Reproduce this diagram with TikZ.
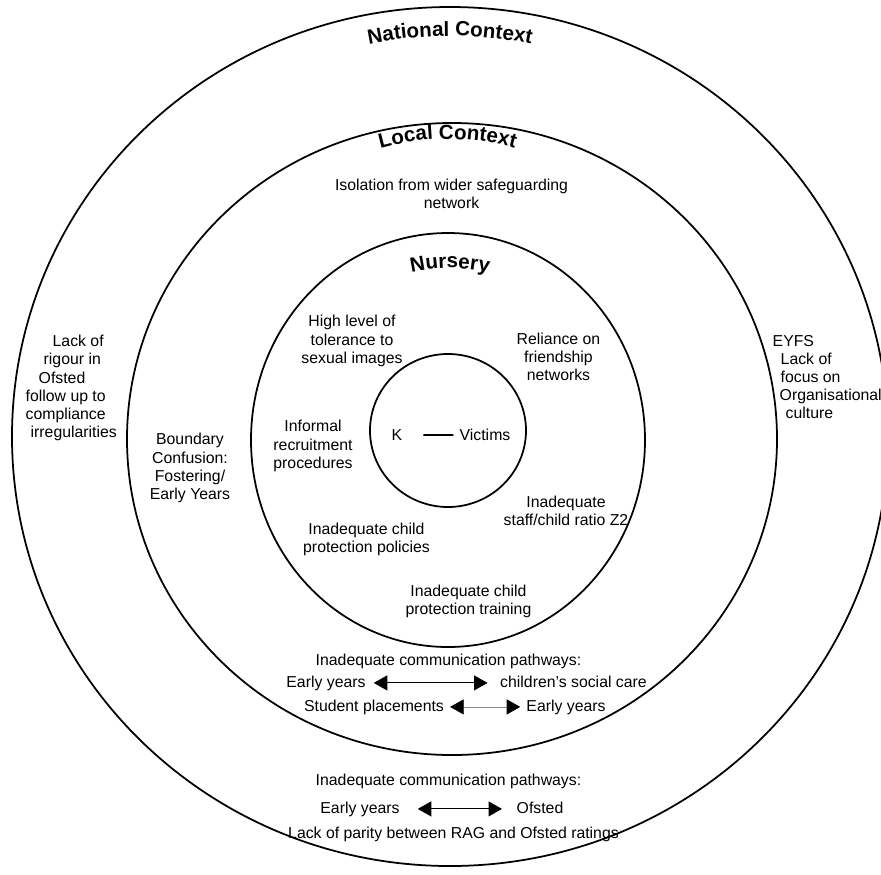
\documentclass[tikz,border=0pt]{standalone}
\usepackage{fontspec}
\setmainfont{Liberation Sans}
\usetikzlibrary{arrows.meta,decorations.text}
\newcommand{\ringtitle}{\bfseries\fontsize{11.7}{14}\selectfont}

\begin{document}
\begin{tikzpicture}[
  ring/.style={line width=1pt},
  txt/.style={font=\fontsize{9}{10.3}\selectfont, align=center},
  pathway/.style={<->, >={Triangle[length=2.7mm,width=3mm]}, line width=0.6pt},
  arctitle/.style={decorate, decoration={text along path, text align=center, text={|\ringtitle|#1}}}
]
\useasboundingbox (-8.96,8.8) rectangle (8.66,-8.68);

% rings
\draw[ring] (0.04,0.07) ellipse [x radius=8.76, y radius=8.59];
\draw[ring] (0.08,0.02) ellipse [x radius=6.5, y radius=6.32];
\draw[ring] (0,0) ellipse [x radius=3.94, y radius=4.14];
\draw[ring] (0,0.19) ellipse [x radius=1.56, y radius=1.53];

% ring titles
\path[arctitle={National Context}] (0.04,0.07) ++(105:8.01) arc[start angle=105, end angle=75, radius=8.01];
\path[arctitle={Local Context}] (-0.01,1.02) ++(112:5) arc[start angle=112, end angle=68, radius=5];
\path[arctitle={Nursery}] (0.04,0) ++(112:3.44) arc[start angle=112, end angle=68, radius=3.44];

% centre
\node[txt, anchor=base] (K) at (-1.02,-0.01) {K};
\node[txt, anchor=base] (vic) at (0.74,-0.01) {Victims};
\draw[line width=1pt, shorten <=0.3cm] (K) -- (vic);

% nursery
\node[txt] (tol) at (-1.92,1.98) {High level of\\tolerance to\\sexual images};
\node[txt] (rel) at (2.21,1.66) {Reliance on\\friendship\\networks};
\node[txt] (inf) at (-2.7,-0.12) {Informal\\recruitment\\procedures};
\node[txt] (staff) at (2.36,-1.42) {Inadequate\\staff/child ratio Z2};
\node[txt] (pol) at (-1.63,-1.98) {Inadequate child\\protection policies};
\node[txt] (trn) at (0.41,-3.22) {Inadequate child\\protection training};

% local context
\node[txt] (iso) at (0.07,4.92) {Isolation from wider safeguarding\\network};
\node[txt] (bnd) at (-5.16,-0.56) {Boundary\\Confusion:\\Fostering/\\Early Years};
\node[txt, anchor=base] (com1) at (0.01,-4.5) {Inadequate communication pathways:};
\node[txt, anchor=base] (ey1) at (-2.44,-4.94) {Early years};
\node[txt, anchor=base] (csc) at (2.51,-4.94) {children’s social care};
\node[txt, anchor=base] (stu) at (-1.48,-5.42) {Student placements};
\node[txt, anchor=base] (ey2) at (2.36,-5.42) {Early years};
\draw[pathway, shorten <=0.04cm, shorten >=0.13cm] (ey1.east) -- (ey1.east -| csc.west);
\draw[pathway, draw=black!45, line width=0.4pt, >={Triangle[length=2.7mm,width=3mm,color=black]}] (stu.east) -- (stu.east -| ey2.west);

% national context
\node[txt, align=left, anchor=west] (rig) at (-8.57,1.04) {\hspace*{0.54cm}Lack of\\\hspace*{0.36cm}rigour in\\\hspace*{0.26cm}Ofsted\\follow up to\\compliance\\\hspace*{0.1cm}irregularities};
\node[txt, align=left, anchor=west] (eyfs) at (6.37,1.26) {EYFS\\\hspace*{0.16cm}Lack of\\\hspace*{0.16cm}focus on\\\hspace*{0.14cm}Organisational\\\hspace*{0.26cm}culture};
\node[txt, anchor=base] (com2) at (0.01,-6.9) {Inadequate communication pathways:};
\node[txt, anchor=base] (ey3) at (-1.76,-7.46) {Early years};
\node[txt, anchor=base] (ofs) at (1.84,-7.46) {Ofsted};
\node[txt, anchor=base] (par) at (0.11,-7.96) {Lack of parity between RAG and Ofsted ratings};
\draw[pathway, shorten <=0.24cm, shorten >=0.17cm] (ey3.east) -- (ey3.east -| ofs.west);
\end{tikzpicture}
\end{document}
